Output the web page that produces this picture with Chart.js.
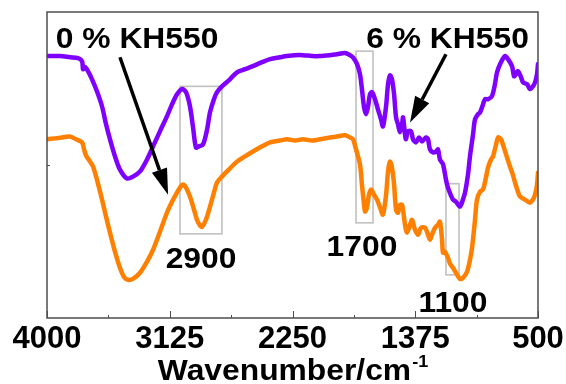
<!DOCTYPE html>
<html><head><meta charset="utf-8">
<script src="https://cdn.jsdelivr.net/npm/chart.js@4"></script>
<style>html,body{margin:0;padding:0;background:#fff}#wrap{width:566px;height:384px}</style>
</head><body><div id="wrap"><canvas id="c" width="566" height="384"></canvas></div>
<script>
// ---- data (wavenumber in cm-1, transmittance in arbitrary units) ----
const wn6 = [4000,3907,3836,3779,3750,3743,3729,3708,3679,3644,3608,3579,3551,3515,3480,3430,3387,3337,3287,3244,3195,3145,3109,3073,3038,3009,2981,2959,2938,2917,2888,2859,2838,2810,2788,2753,2696,2646,2589,2532,2467,2410,2339,2289,2232,2175,2111,2054,1983,1933,1876,1840,1819,1790,1769,1755,1740,1726,1712,1698,1683,1662,1641,1619,1605,1583,1569,1555,1541,1526,1512,1498,1484,1469,1462,1448,1441,1427,1405,1391,1370,1348,1327,1298,1284,1270,1248,1227,1213,1199,1177,1156,1142,1120,1106,1085,1056,1035,1020,999,985,963,949,928,913,892,878,856,828,807,792,764,735,714,685,671,657,643,621,607,578,557,536,521,507,500];
const t6 = [85.6,85.6,85.2,84.9,83.9,81.3,82.0,80.7,78.0,74.1,69.2,63.3,58.4,52.8,48.5,45.6,46.2,47.9,51.8,56.1,61.0,65.9,69.8,73.1,74.8,73.8,69.2,62.3,55.7,56.1,56.7,61.6,67.2,71.5,73.8,75.7,78.0,80.3,81.3,82.3,83.6,84.6,85.2,85.6,85.9,85.9,85.6,85.6,85.9,86.2,86.6,85.9,85.2,83.0,79.7,74.8,68.9,66.6,68.9,73.1,73.8,71.5,68.2,64.9,62.6,69.2,76.4,79.3,78.0,73.1,65.6,63.3,60.7,63.3,65.6,60.0,58.4,61.0,61.0,58.4,57.4,59.0,57.7,59.0,58.4,55.1,54.1,54.4,55.1,51.8,50.2,45.2,42.6,40.0,38.7,38.0,36.4,38.7,41.0,46.9,52.8,60.0,64.9,66.6,67.2,69.8,71.5,71.5,72.5,76.4,80.3,83.6,85.6,84.6,82.3,79.0,79.7,80.7,78.7,77.0,76.4,74.8,75.7,77.0,79.7,83.0];
const wn0 = [4000,3943,3893,3836,3793,3750,3736,3722,3693,3672,3644,3608,3579,3551,3515,3480,3451,3423,3387,3337,3287,3244,3195,3145,3109,3073,3052,3031,3009,2981,2952,2931,2909,2895,2867,2838,2810,2788,2753,2717,2646,2589,2532,2467,2410,2339,2289,2232,2175,2111,2054,1983,1933,1876,1840,1819,1797,1769,1755,1740,1733,1719,1705,1690,1669,1648,1626,1605,1583,1569,1555,1541,1526,1512,1498,1484,1469,1448,1434,1412,1398,1377,1355,1334,1305,1284,1270,1256,1234,1213,1199,1184,1177,1163,1142,1127,1106,1085,1056,1035,1006,985,970,949,935,913,892,871,856,835,821,799,785,764,750,721,700,678,664,643,628,593,557,536,521,507,500];
const t0 = [58.4,58.7,59.0,59.3,58.4,57.4,55.1,53.1,51.1,49.5,45.2,38.7,33.1,27.9,21.6,16.4,13.4,12.5,12.8,14.8,18.4,22.3,28.2,34.4,38.0,41.0,42.6,43.6,42.6,39.7,35.4,32.1,30.2,29.8,32.1,36.4,41.0,44.3,46.2,47.9,51.1,52.8,54.4,56.1,57.4,58.0,58.4,58.0,58.4,58.0,58.4,59.0,59.3,59.7,59.0,58.4,55.1,50.2,43.6,37.0,34.8,36.1,40.3,42.0,40.3,38.7,36.1,33.8,40.3,47.9,51.1,49.2,43.6,35.4,34.4,37.0,37.0,30.5,27.9,30.5,32.1,28.9,27.2,29.5,29.5,27.2,25.6,27.2,29.5,30.5,31.5,25.6,21.3,21.6,19.7,17.7,16.4,14.8,12.8,13.1,15.1,19.0,23.0,32.1,38.7,41.3,42.0,45.9,49.2,51.8,52.8,56.7,59.0,58.4,56.7,52.5,49.5,46.6,44.3,41.3,39.7,38.7,37.7,38.7,40.3,43.6,47.5];
const seriesNames = ['6 % KH550', '0 % KH550'];
const tickValues = [4000, 3125, 2250, 1375, 500];
const tickLabels = ['4000', '3125', '2250', '1375', '500'];
const peakLabels = ['2900', '1700', '1100'];
// peak boxes: [wn from, wn to, T top, T bottom]
const peakBoxes = [[3052, 2753, 75.7, 27.5], [1797, 1676, 87.2, 31.1], [1156, 1063, 43.9, 14.1]];

// ---- annotation placement (data coordinates) ----
const textPos = [
  {text: seriesNames[1], wn: 3358, t: 88.2},
  {text: seriesNames[0], wn: 1145, t: 88.2},
  {text: peakLabels[0], wn: 2902, t: 16.4},
  {text: peakLabels[1], wn: 1755, t: 20.3},
  {text: peakLabels[2], wn: 1106, t: 2.0}
];
const arrows = [
  {from: [3480, 85.2], to: [3137, 40.3]},
  {from: [1156, 86.2], to: [1412, 63.9]}
];

const FONT = '"Liberation Sans", Arial, sans-serif';
const FRAME = '#4d4d4d';
const STRETCH = 1.06;

function wideText(ctx, s, px, py, align) {
  ctx.save();
  ctx.translate(px, py);
  ctx.scale(STRETCH, 1);
  ctx.textAlign = align;
  ctx.fillText(s, 0, 0);
  ctx.restore();
}

const annot = {
  id: 'annot',
  beforeDatasetsDraw(chart) {
    const {ctx, scales: {x, y}} = chart;
    ctx.save();
    ctx.strokeStyle = '#c0c0c0';
    ctx.lineWidth = 1.6;
    peakBoxes.forEach(b => {
      const x1 = x.getPixelForValue(b[0]), x2 = x.getPixelForValue(b[1]);
      const y1 = y.getPixelForValue(b[2]), y2 = y.getPixelForValue(b[3]);
      ctx.strokeRect(x1, y1, x2 - x1, y2 - y1);
    });
    ctx.restore();
  },
  afterDatasetsDraw(chart) {
    const {ctx, chartArea: a, scales: {x, y}} = chart;
    ctx.save();
    // frame
    ctx.strokeStyle = FRAME;
    ctx.lineWidth = 1.5;
    ctx.strokeRect(a.left, a.top, a.right - a.left, a.bottom - a.top);
    // inward ticks
    ctx.beginPath();
    tickValues.forEach(v => {
      const px = Math.round(x.getPixelForValue(v)) + 0.5;
      ctx.moveTo(px, a.bottom); ctx.lineTo(px, a.bottom - 7);
    });
    for (let i = 0; i < tickValues.length - 1; i++) {
      const px = Math.round(x.getPixelForValue((tickValues[i] + tickValues[i + 1]) / 2)) + 0.5;
      ctx.moveTo(px, a.bottom); ctx.lineTo(px, a.bottom - 3);
    }
    const py = Math.round(y.getPixelForValue(50)) + 0.5;
    ctx.moveTo(a.left, py); ctx.lineTo(a.left + 3, py);
    ctx.lineWidth = 1;
    ctx.stroke();
    // arrows
    ctx.strokeStyle = '#000'; ctx.fillStyle = '#000';
    arrows.forEach(ar => {
      const x0 = x.getPixelForValue(ar.from[0]), y0 = y.getPixelForValue(ar.from[1]);
      const x1 = x.getPixelForValue(ar.to[0]), y1 = y.getPixelForValue(ar.to[1]);
      const ang = Math.atan2(y1 - y0, x1 - x0);
      const hl = 26, hw = 8;
      const bx = x1 - hl * Math.cos(ang), by = y1 - hl * Math.sin(ang);
      ctx.lineWidth = 3.5;
      ctx.beginPath(); ctx.moveTo(x0, y0); ctx.lineTo(bx, by); ctx.stroke();
      ctx.beginPath();
      ctx.moveTo(x1, y1);
      ctx.lineTo(bx + hw * Math.sin(ang), by - hw * Math.cos(ang));
      ctx.lineTo(bx - hw * Math.sin(ang), by + hw * Math.cos(ang));
      ctx.closePath(); ctx.fill();
    });
    // labels
    ctx.font = 'bold 30px ' + FONT;
    ctx.textBaseline = 'alphabetic';
    textPos.forEach(p => {
      wideText(ctx, p.text, x.getPixelForValue(p.wn), y.getPixelForValue(p.t), 'center');
    });
    // axis title with superscript
    const main = 'Wavenumber/cm', sup = '-1';
    ctx.font = 'bold 30px ' + FONT;
    const wMain = ctx.measureText(main).width * STRETCH;
    ctx.font = 'bold 17px ' + FONT;
    const wSup = ctx.measureText(sup).width * STRETCH;
    const cx = (a.left + a.right) / 2;
    const sx = cx - (wMain + wSup) / 2;
    ctx.font = 'bold 30px ' + FONT;
    wideText(ctx, main, sx, a.bottom + 62, 'left');
    ctx.font = 'bold 17px ' + FONT;
    wideText(ctx, sup, sx + wMain + 1, a.bottom + 49, 'left');
    ctx.restore();
  }
};

const toPts = (xs, ys) => xs.map((v, i) => ({x: v, y: ys[i]}));

new Chart(document.getElementById('c'), {
  type: 'line',
  data: {
    datasets: [
      {label: seriesNames[0], data: toPts(wn6, t6), borderColor: '#8000ff', borderWidth: 4.5, pointRadius: 0, tension: 0.3, borderJoinStyle: 'round', borderCapStyle: 'round'},
      {label: seriesNames[1], data: toPts(wn0, t0), borderColor: '#ff8000', borderWidth: 4.5, pointRadius: 0, tension: 0.3, borderJoinStyle: 'round', borderCapStyle: 'round'}
    ]
  },
  options: {
    responsive: false,
    animation: false,
    devicePixelRatio: 1,
    layout: {padding: {left: 47, right: 28, top: 12, bottom: 0}},
    plugins: {legend: {display: false}, tooltip: {enabled: false}},
    scales: {
      x: {
        type: 'linear', reverse: true, min: 500, max: 4000,
        afterBuildTicks: s => { s.ticks = tickValues.map(v => ({value: v})); },
        afterFit: s => { s.height = 66; },
        grid: {display: false},
        border: {display: false},
        ticks: {
          autoSkip: false, maxRotation: 0, padding: -5, color: '#000',
          font: {family: FONT, size: 31, weight: 'bold'},
          callback: (v) => tickLabels[tickValues.indexOf(v)]
        }
      },
      y: {
        display: false, min: 0, max: 100
      }
    }
  },
  plugins: [annot]
});
</script>
</body></html>
